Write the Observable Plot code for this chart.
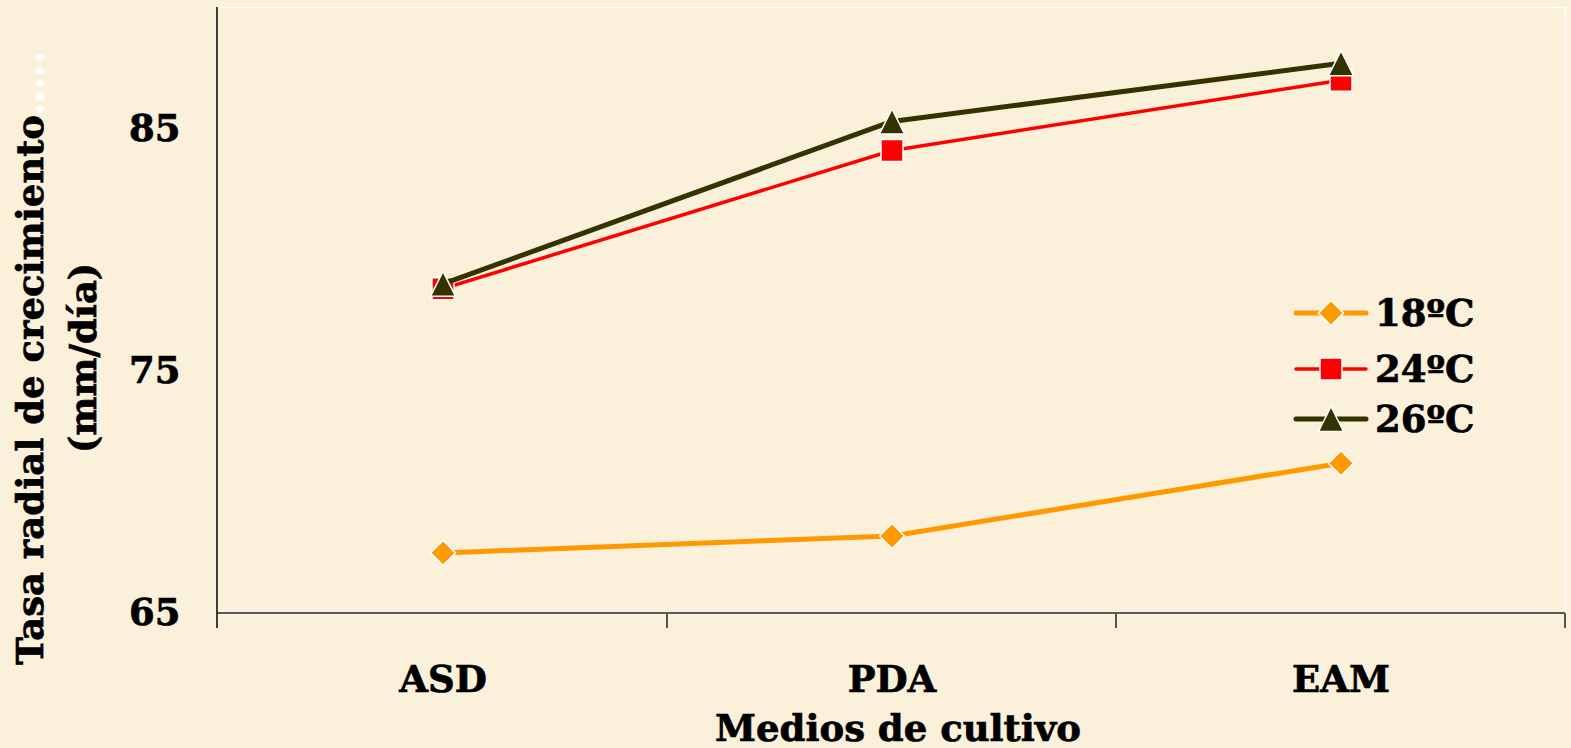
<!DOCTYPE html>
<html>
<head>
<meta charset="utf-8">
<script src="https://cdn.jsdelivr.net/npm/d3@7"></script>
<script src="https://cdn.jsdelivr.net/npm/@observablehq/plot@0.6"></script>
<style>
  html, body { margin: 0; padding: 0; background: #FBF1DA; }
  #chart svg { display: block; }
  #chart svg text { stroke: black; stroke-width: 0.7px; }
  #chart svg tspan.blank { stroke: white; }
</style>
</head>
<body>
<div id="chart"></div>
<script>
// Culture media (x categories) and temperature series
const media = ["ASD", "PDA", "EAM"];
const series = ["18ºC", "24ºC", "26ºC"];

// Radial growth rate (mm/día) per medium, one array per temperature
const rate18 = [67.5, 68.2, 71.2];
const rate24 = [78.4, 84.1, 87.0];
const rate26 = [78.6, 85.3, 87.7];

const yTicks = [65, 75, 85];
const yDomain = [65, 90];

const seriesColors = ["#FF9900", "#FF0000", "#333300"];
const seriesWidths = [5, 3.5, 5];

// Marker shapes sized by their bounding box (sqrt(size) = box side)
const diamond = {draw(ctx, size) { const h = Math.sqrt(size) / 2; ctx.moveTo(0, -h); ctx.lineTo(h, 0); ctx.lineTo(0, h); ctx.lineTo(-h, 0); ctx.closePath(); }};
const square = {draw(ctx, size) { const h = Math.sqrt(size) / 2; ctx.rect(-h, -h, 2 * h, 2 * h); }};
const triangle = {draw(ctx, size) { const h = Math.sqrt(size) / 2; ctx.moveTo(0, -h); ctx.lineTo(h, h); ctx.lineTo(-h, h); ctx.closePath(); }};
const seriesSymbols = [diamond, square, triangle];
const seriesBox = [25, 22, 25]; // marker box side in px

(function draw() {
  const values = [rate18, rate24, rate26];
  const rows = series.flatMap((s, i) => media.map((m, j) => ({medium: m, series: s, value: values[i][j]})));

  const FONT = "DejaVu Serif";
  const rFor = (side) => side / Math.sqrt(Math.PI);

  const marks = [Plot.frame({stroke: "white", strokeWidth: 1.5})];
  series.forEach((s, i) => {
    const d = rows.filter(r => r.series === s);
    marks.push(Plot.line(d, {x: "medium", y: "value", stroke: seriesColors[i], strokeWidth: seriesWidths[i], strokeLinejoin: "round"}));
    marks.push(Plot.dot(d, {x: "medium", y: "value", symbol: seriesSymbols[i], r: rFor(seriesBox[i]), fill: seriesColors[i], stroke: "white", strokeWidth: 1.5}));
  });

  const plot = Plot.plot({
    width: 1571,
    height: 748,
    marginLeft: 217,
    marginRight: 6,
    marginTop: 7,
    marginBottom: 135,
    x: {type: "band", domain: media, padding: 0, tickSize: 0, tickPadding: 52, label: null},
    y: {domain: yDomain, ticks: yTicks, tickSize: 0, tickPadding: 37, label: null},
    style: {background: "transparent", fontFamily: FONT, fontSize: "37px", fontWeight: "bold", color: "black", overflow: "visible"},
    marks
  });

  document.getElementById("chart").append(plot);

  // Axis lines, category separators, titles and legend
  const svg = d3.select(plot);
  const xs = plot.scale("x");
  const ys = plot.scale("y");
  const xAt = (v) => xs.apply ? xs.apply(v) : d3.scaleBand(xs.domain, xs.range)(v);
  const bw = xs.bandwidth ?? ((xs.range[1] - xs.range[0]) / media.length);
  const x0 = Math.min(...xs.range), x1 = Math.max(...xs.range);
  const yBottom = ys.apply(yDomain[0]), yTop = ys.apply(yDomain[1]);
  const tickLen = 15;

  const g = svg.append("g");
  const seps = media.map(m => xAt(m)).concat([xAt(media[media.length - 1]) + bw]).slice(1);
  seps.forEach(x => {
    g.append("line").attr("x1", x).attr("x2", x).attr("y1", yBottom).attr("y2", yBottom + tickLen)
      .attr("stroke", "#555").attr("stroke-width", 2);
  });
  g.append("line").attr("x1", x0).attr("x2", x1).attr("y1", yBottom).attr("y2", yBottom)
    .attr("stroke", "#5a5a5a").attr("stroke-width", 2);
  g.append("line").attr("x1", x0).attr("x2", x0).attr("y1", yTop).attr("y2", yBottom + tickLen)
    .attr("stroke", "black").attr("stroke-width", 1.5);

  const label = (sel) => sel.attr("font-family", FONT).attr("font-size", 37).attr("font-weight", "bold").attr("fill", "black");

  // y axis title (two lines, rotated)
  const yMid = 358;
  const t1 = svg.append("text").attr("transform", `translate(43,${yMid}) rotate(-90)`)
    .attr("text-anchor", "middle").call(label);
  t1.append("tspan").text("Tasa radial de crecimiento");
  t1.append("tspan").attr("class", "blank").attr("fill", "white").text(".....");
  svg.append("text").attr("transform", `translate(96,${yMid}) rotate(-90)`)
    .attr("text-anchor", "middle").call(label)
    .text("(mm/día)");

  // x axis title
  svg.append("text").attr("x", (x0 + x1) / 2 + 7).attr("y", 741)
    .attr("text-anchor", "middle").call(label)
    .text("Medios de cultivo");

  // legend
  const lg = svg.append("g");
  const legendY = [313, 369, 419];
  series.forEach((s, i) => {
    const y = legendY[i];
    lg.append("line").attr("x1", 1296).attr("x2", 1366).attr("y1", y).attr("y2", y)
      .attr("stroke", seriesColors[i]).attr("stroke-width", seriesWidths[i]).attr("stroke-linecap", "round");
    lg.append("path").attr("transform", `translate(1331,${y})`)
      .attr("d", d3.symbol(seriesSymbols[i], seriesBox[i] * seriesBox[i])())
      .attr("fill", seriesColors[i]).attr("stroke", "white").attr("stroke-width", 1.5);
    lg.append("text").attr("x", 1375).attr("y", y).attr("dy", "0.36em")
      .attr("text-anchor", "start").call(label)
      .text(s);
  });
})();
</script>
</body>
</html>
